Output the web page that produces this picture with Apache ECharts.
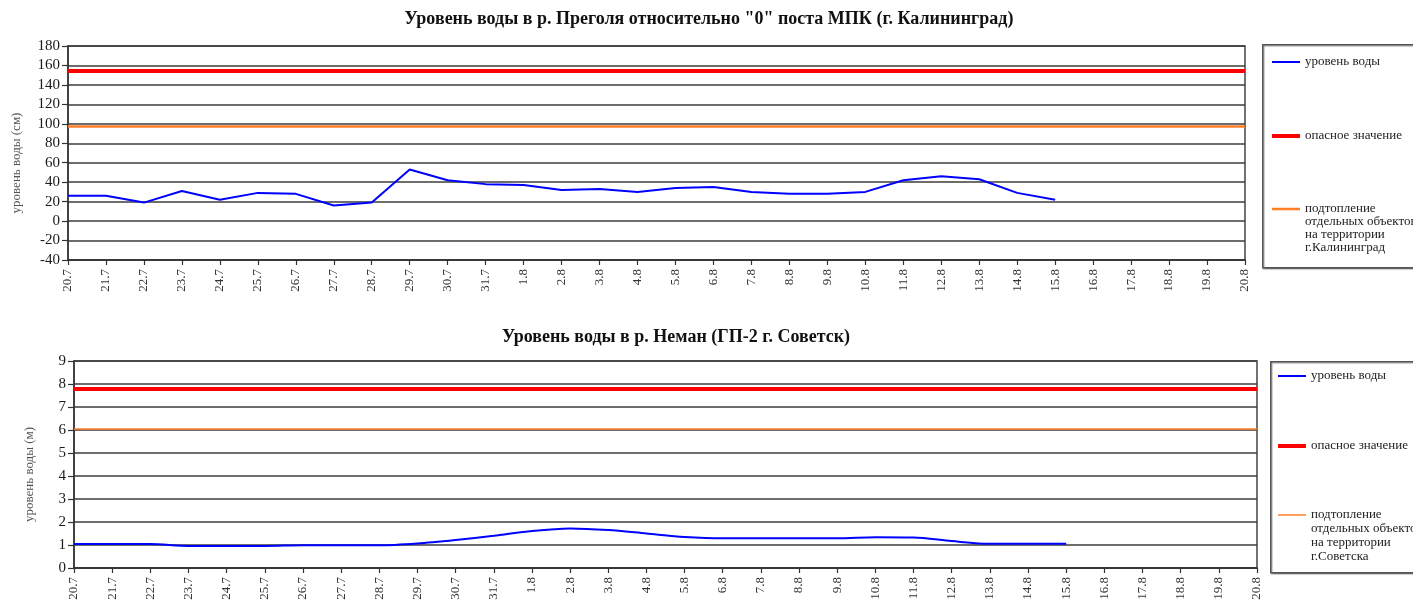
<!DOCTYPE html>
<html>
<head>
<meta charset="utf-8">
<script src="https://cdn.jsdelivr.net/npm/echarts@6/dist/echarts.min.js"></script>
<style>
html,body{margin:0;padding:0;background:#ffffff;width:1413px;height:605px;overflow:hidden}
#c1{position:absolute;left:0;top:0;width:1413px;height:300px}
#c2{position:absolute;left:0;top:300px;width:1413px;height:305px}
</style>
</head>
<body>
<div id="c1"></div>
<div id="c2"></div>
<script>
// ---- data ----
const categories = ['20.7','21.7','22.7','23.7','24.7','25.7','26.7','27.7','28.7','29.7','30.7','31.7',
  '1.8','2.8','3.8','4.8','5.8','6.8','7.8','8.8','9.8','10.8','11.8','12.8','13.8','14.8','15.8',
  '16.8','17.8','18.8','19.8','20.8'];

const pregolyaTitle = 'Уровень воды в р. Преголя относительно "0" поста МПК (г. Калининград)';
const pregolyaAxisName = 'уровень воды (см)';
const pregolyaLevel = [26,26,19,31,22,29,28,16,19,53,42,38,37,32,33,30,34,35,30,28,28,30,42,46,43,29,22];
const pregolyaDanger = 155;
const pregolyaFlood = 97;
const pregolyaFloodName = 'подтопление\nотдельных объектов\nна территории\nг.Калининград';

const nemanTitle = 'Уровень воды в р. Неман (ГП-2 г. Советск)';
const nemanAxisName = 'уровень воды (м)';
const nemanLevel = [1.04,1.04,1.04,0.96,0.96,0.96,0.99,0.99,0.99,1.07,1.22,1.40,1.61,1.72,1.65,1.50,1.35,1.29,1.29,1.29,1.29,1.34,1.33,1.17,1.05,1.05,1.05];
const nemanDanger = 7.8;
const nemanFlood = 6.05;
const nemanFloodName = 'подтопление\nотдельных объектов\nна территории\nг.Советска';

const levelName = 'уровень воды';
const dangerName = 'опасное значение';

// ---- helpers ----
const SERIF = '"Liberation Serif","Times New Roman",serif';
function textWidth(txt, font) {
  const c = document.createElement('canvas').getContext('2d');
  c.font = font;
  return c.measureText(txt).width;
}

function makeOption(cfg) {
  const titleSize = 18;
  const tw = textWidth(cfg.title, 'bold ' + titleSize + 'px "Liberation Serif"');
  const lh = cfg.lh;
  const legendBase = {
    orient: 'vertical', padding: 0, itemWidth: 28, icon: 'rect',
    left: cfg.legendLeft, selectedMode: false,
    textStyle: { fontFamily: SERIF, fontSize: 13, color: '#222', lineHeight: lh }
  };
  return {
    animation: false,
    backgroundColor: '#ffffff',
    title: {
      text: cfg.title, left: cfg.titleCenter - tw / 2, top: cfg.titleTop, padding: 0,
      textStyle: { fontFamily: SERIF, fontSize: titleSize, fontWeight: 'bold', color: '#111' }
    },
    graphic: [{
      type: 'rect', left: cfg.boxLeft, top: cfg.boxTop, silent: true,
      shape: { width: 200, height: cfg.boxHeight },
      style: { fill: '#ffffff', stroke: '#555', lineWidth: 1.5, shadowColor: 'rgba(0,0,0,0.35)', shadowOffsetX: 1, shadowOffsetY: 1, shadowBlur: 1 },
      z: 0
    }],
    legend: [
      Object.assign({}, legendBase, { itemHeight: 2, top: cfg.legendCenters[0] - lh / 2, data: [levelName] }),
      Object.assign({}, legendBase, { itemHeight: 4, top: cfg.legendCenters[1] - lh / 2, data: [dangerName] }),
      Object.assign({}, legendBase, {
        itemHeight: cfg.floodWidth, top: cfg.legendCenters[2] - 3.5 * lh,
        data: [cfg.floodName],
        formatter: function (name) { return '\n\n\n' + name; }
      })
    ],
    grid: {
      left: cfg.grid.left, right: cfg.grid.right, top: cfg.grid.top, bottom: cfg.grid.bottom,
      show: true, borderColor: '#444', borderWidth: 1.5, backgroundColor: 'transparent'
    },
    xAxis: {
      type: 'category', data: categories, boundaryGap: false,
      axisLine: { onZero: false, lineStyle: { color: '#333', width: 1.5 } },
      axisTick: { show: true, length: 5, alignWithLabel: true, lineStyle: { color: '#333', width: 1.2 } },
      axisLabel: { rotate: 90, margin: 9, interval: 0, fontFamily: SERIF, fontSize: 13, color: '#333' },
      splitLine: { show: false }
    },
    yAxis: {
      type: 'value', min: cfg.yMin, max: cfg.yMax, interval: cfg.yInterval,
      name: cfg.axisName, nameLocation: 'middle', nameGap: cfg.nameGap, nameRotate: 90,
      nameTextStyle: { fontFamily: SERIF, fontSize: 13, color: '#555', padding: [0, 20, 0, 0] },
      axisLine: { show: true, lineStyle: { color: '#333', width: 1.5 } },
      axisTick: { show: true, length: 6, lineStyle: { color: '#333', width: 1.2 } },
      axisLabel: { fontFamily: SERIF, fontSize: 15, color: '#1a1a1a', margin: 8 },
      splitLine: { show: true, lineStyle: { color: '#3c3c3c', width: 1.5 } }
    },
    series: [
      {
        name: dangerName, type: 'line', data: [], symbol: 'none',
        lineStyle: { color: '#ff0000', width: 4 }, itemStyle: { color: '#ff0000' },
        markLine: { silent: true, symbol: ['none', 'none'], label: { show: false },
          lineStyle: { color: '#ff0000', width: 4, type: 'solid' }, data: [{ yAxis: cfg.danger }] },
        z: 3
      },
      {
        name: cfg.floodName, type: 'line', data: [], symbol: 'none',
        lineStyle: { color: '#ff7f27', width: cfg.floodWidth }, itemStyle: { color: '#ff7f27' },
        markLine: { silent: true, symbol: ['none', 'none'], label: { show: false },
          lineStyle: { color: '#ff7f27', width: cfg.floodWidth, type: 'solid' }, data: [{ yAxis: cfg.flood }] },
        z: 3
      },
      {
        name: levelName, type: 'line', data: cfg.level, symbol: 'none', smooth: cfg.smooth,
        lineStyle: { color: '#0000ff', width: 2 }, itemStyle: { color: '#0000ff' }, z: 4
      }
    ]
  };
}

const chart1 = echarts.init(document.getElementById('c1'), null, { renderer: 'canvas' });
chart1.setOption(makeOption({
  title: pregolyaTitle, titleCenter: 709, titleTop: 10,
  axisName: pregolyaAxisName, nameGap: 45,
  level: pregolyaLevel, danger: pregolyaDanger, flood: pregolyaFlood, floodName: pregolyaFloodName,
  floodWidth: 2.5, smooth: false,
  yMin: -40, yMax: 180, yInterval: 20,
  grid: { left: 68, right: 168, top: 46, bottom: 40 },
  boxLeft: 1262, boxTop: 44, boxHeight: 223,
  legendLeft: 1272, lh: 13, legendCenters: [62, 136, 209]
}));

const chart2 = echarts.init(document.getElementById('c2'), null, { renderer: 'canvas' });
chart2.setOption(makeOption({
  title: nemanTitle, titleCenter: 676, titleTop: 28,
  axisName: nemanAxisName, nameGap: 38,
  level: nemanLevel, danger: nemanDanger, flood: nemanFlood, floodName: nemanFloodName,
  floodWidth: 1.5, smooth: 0.3,
  yMin: 0, yMax: 9, yInterval: 1,
  grid: { left: 74, right: 156, top: 61, bottom: 37 },
  boxLeft: 1270, boxTop: 61, boxHeight: 211,
  legendLeft: 1278, lh: 14, legendCenters: [76, 146, 215]
}));
</script>
</body>
</html>
